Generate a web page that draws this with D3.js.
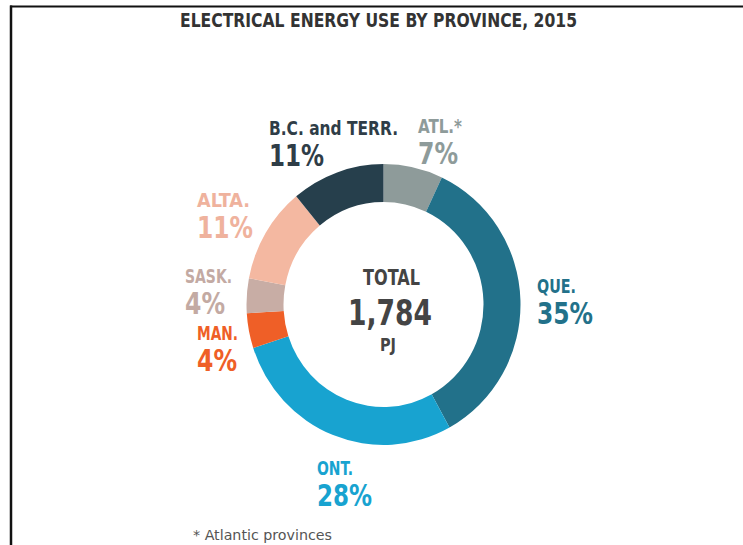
<!DOCTYPE html>
<html>
<head>
<meta charset="utf-8">
<script src="https://cdn.jsdelivr.net/npm/d3@7"></script>
<style>
  html, body { margin: 0; padding: 0; background: #fff; }
  svg { display: block; }
  text { font-family: "Liberation Sans Narrow", "DejaVu Sans Condensed", "Roboto", sans-serif; font-weight: bold; }
</style>
</head>
<body>
<svg id="chart" width="743" height="545"></svg>
<script>
// Share of electrical energy use by province, 2015 (clockwise from 12 o'clock)
const provinces = ["ATL.*", "QUE.", "ONT.", "MAN.", "SASK.", "ALTA.", "B.C. and TERR."];
const shares    = [7, 35, 28, 4, 4, 11, 11];
const colors    = ["#8e9b9a", "#22718a", "#18a3d0", "#ef5f27", "#c8ada5", "#f4b8a1", "#263f4c"];
const labelColors = ["#8e9b9a", "#22718a", "#18a3d0", "#ef5f27", "#c3aaa3", "#efb29d", "#2f3d47"];
const totalPJ = 1784;
const titleText = "ELECTRICAL ENERGY USE BY PROVINCE, 2015";
const footnote = "* Atlantic provinces";

// Label placement (name baseline anchor, name width, percent width)
const labelPos = [
  { x: 418, y: 133, nw: 44, pw: 40 },
  { x: 537, y: 293, nw: 39, pw: 56 },
  { x: 317, y: 475, nw: 36, pw: 55 },
  { x: 197, y: 340, nw: 41, pw: 40 },
  { x: 185, y: 283, nw: 47, pw: 40 },
  { x: 197, y: 207, nw: 53, pw: 56 },
  { x: 269, y: 135, nw: 129, pw: 55 }
];

const svg = d3.select("#chart");

// Frame lines (top and left)
svg.append("line").attr("x1", 10).attr("y1", 6.5).attr("x2", 743).attr("y2", 6.5)
  .attr("stroke", "#111").attr("stroke-width", 2);
svg.append("line").attr("x1", 11).attr("y1", 5.5).attr("x2", 11).attr("y2", 545)
  .attr("stroke", "#111").attr("stroke-width", 2.5);

// Title
svg.append("text").attr("x", 180).attr("y", 27)
  .attr("font-size", 19).attr("fill", "#333")
  .attr("textLength", 397).attr("lengthAdjust", "spacingAndGlyphs")
  .text(titleText);

// Donut
const cx = 383.5, cy = 304.5;
const pie = d3.pie().sort(null).value(d => d)(shares);
const arc = d3.arc().innerRadius(100).outerRadius(137);
const g = svg.append("g").attr("transform", `translate(${cx},${cy}) scale(1,1.025)`);
g.selectAll("path").data(pie).join("path")
  .attr("d", arc)
  .attr("fill", (d, i) => colors[i]);

// Segment labels
const fmtPct = d3.format("d");
provinces.forEach((name, i) => {
  const p = labelPos[i];
  svg.append("text").attr("x", p.x).attr("y", p.y)
    .attr("font-size", 19).attr("fill", labelColors[i])
    .attr("textLength", p.nw).attr("lengthAdjust", "spacingAndGlyphs")
    .text(name);
  svg.append("text").attr("x", p.x).attr("y", p.y + 31)
    .attr("font-size", 31).attr("fill", labelColors[i])
    .attr("textLength", p.pw).attr("lengthAdjust", "spacingAndGlyphs")
    .text(fmtPct(shares[i]) + "%");
});

// Centre total
svg.append("text").attr("x", 363).attr("y", 285)
  .attr("font-size", 22).attr("fill", "#444")
  .attr("textLength", 57).attr("lengthAdjust", "spacingAndGlyphs")
  .text("TOTAL");
svg.append("text").attr("x", 348).attr("y", 325)
  .attr("font-size", 35).attr("fill", "#444")
  .attr("textLength", 84).attr("lengthAdjust", "spacingAndGlyphs")
  .text(d3.format(",")(totalPJ));
svg.append("text").attr("x", 380).attr("y", 351)
  .attr("font-size", 18).attr("fill", "#444")
  .attr("textLength", 16).attr("lengthAdjust", "spacingAndGlyphs")
  .text("PJ");

// Footnote
svg.append("text").attr("x", 193).attr("y", 540)
  .attr("font-size", 14).attr("fill", "#555")
  .style("font-weight", "normal")
  .attr("textLength", 139).attr("lengthAdjust", "spacingAndGlyphs")
  .text(footnote);
</script>
</body>
</html>
